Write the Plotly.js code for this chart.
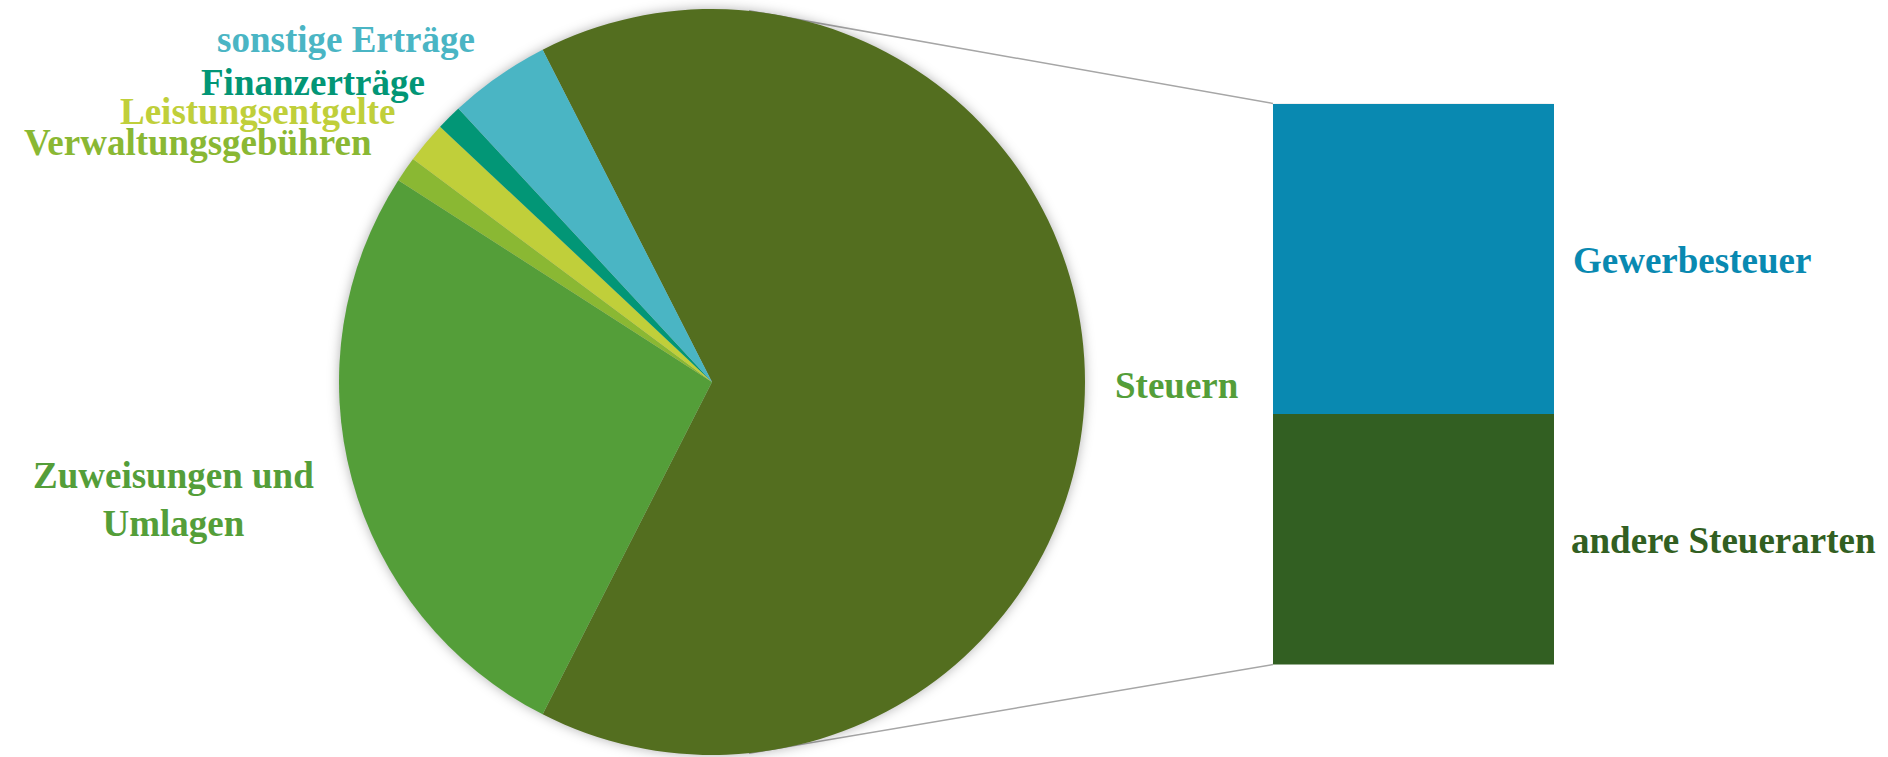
<!DOCTYPE html>
<html>
<head>
<meta charset="utf-8">
<script src="https://cdn.plot.ly/plotly-3.0.1.min.js"></script>
<style>
  html, body { margin: 0; padding: 0; background: #ffffff; }
  #chart { width: 1888px; height: 757px; }
</style>
</head>
<body>
<div id="chart"></div>
<script>
// ---- data ----
const sliceLabels = ['Steuern', 'Zuweisungen und Umlagen', 'Verwaltungsgebühren', 'Leistungsentgelte', 'Finanzerträge', 'sonstige Erträge'];
const sliceValues = [65.0, 26.6, 1.1, 1.8, 1.1, 4.4];
const sliceColors = ['#536E1F', '#549E39', '#8AB833', '#C0CF3A', '#029676', '#4AB5C4'];

const steuerLabels = ['Gewerbesteuer', 'andere Steuerarten'];
const steuerValues = [55.3, 44.7];
const steuerColors = ['#0989B1', '#325F22'];

// ---- geometry (layout only) ----
const W = 1888, H = 757;
const pieDomX = [339 / W, 1085 / W];
const pieDomY = [(H - 755) / H, (H - 9) / H];
const barDomX = [1273 / W, 1554 / W];
const barDomY = [(H - 664.5) / H, (H - 103.5) / H];
const connectorAngle = 5.7; // degrees from vertical where connector meets pie

const labelFont = { family: 'Liberation Serif, serif', size: 37, weight: 700 };

// pie geometry in paper coords
const pieCx = (pieDomX[0] + pieDomX[1]) / 2;
const pieCy = (pieDomY[0] + pieDomY[1]) / 2;
const pieRpx = Math.min((pieDomX[1] - pieDomX[0]) * W, (pieDomY[1] - pieDomY[0]) * H) / 2;
const rad = connectorAngle * Math.PI / 180;
const topPt = { x: pieCx + pieRpx * Math.sin(rad) / W, y: pieCy + pieRpx * Math.cos(rad) / H };
const botPt = { x: pieCx + pieRpx * Math.sin(rad) / W, y: pieCy - pieRpx * Math.cos(rad) / H };

const pieTrace = {
  type: 'pie',
  labels: sliceLabels,
  values: sliceValues,
  sort: false,
  direction: 'clockwise',
  rotation: -27,
  marker: { colors: sliceColors, line: { width: 0 } },
  textinfo: 'none',
  hoverinfo: 'label+percent',
  domain: { x: pieDomX, y: pieDomY },
  showlegend: false
};

const barTraces = [1, 0].map(i => ({
  type: 'bar',
  x: ['Steuern'],
  y: [steuerValues[i]],
  name: steuerLabels[i],
  width: 1,
  marker: { color: steuerColors[i], line: { width: 0 } },
  xaxis: 'x2',
  yaxis: 'y2',
  showlegend: false,
  hoverinfo: 'name+y'
}));

const steuerTotal = steuerValues.reduce((a, b) => a + b, 0);

// label placements (center x px, middle y px)
const labelPos = {
  'sonstige Erträge': [346, 39],
  'Finanzerträge': [313, 82],
  'Leistungsentgelte': [257, 112],
  'Verwaltungsgebühren': [198, 143],
  'Zuweisungen und Umlagen': [173, 499],
  'Steuern': [1177, 385],
  'Gewerbesteuer': [1692, 260],
  'andere Steuerarten': [1723, 540]
};
const labelColors = {
  'sonstige Erträge': sliceColors[5],
  'Finanzerträge': sliceColors[4],
  'Leistungsentgelte': sliceColors[3],
  'Verwaltungsgebühren': sliceColors[2],
  'Zuweisungen und Umlagen': sliceColors[1],
  'Steuern': sliceColors[1],
  'Gewerbesteuer': steuerColors[0],
  'andere Steuerarten': steuerColors[1]
};
const allLabels = sliceLabels.concat(steuerLabels);
const annotations = allLabels.map(t => ({
  text: t === 'Zuweisungen und Umlagen' ? 'Zuweisungen und<br>Umlagen' : t,
  xref: 'paper', yref: 'paper',
  x: labelPos[t][0] / W,
  y: (H - labelPos[t][1]) / H,
  xanchor: 'center', yanchor: 'middle',
  align: 'center',
  showarrow: false,
  font: Object.assign({}, labelFont, { color: labelColors[t] })
}));

const shapes = [
  { type: 'line', xref: 'paper', yref: 'paper', layer: 'below',
    x0: topPt.x, y0: topPt.y, x1: barDomX[0], y1: barDomY[1],
    line: { color: '#A6A6A6', width: 1.5 } },
  { type: 'line', xref: 'paper', yref: 'paper', layer: 'below',
    x0: botPt.x, y0: botPt.y, x1: barDomX[0], y1: barDomY[0],
    line: { color: '#A6A6A6', width: 1.5 } }
];

const layout = {
  width: W, height: H,
  margin: { l: 0, r: 0, t: 0, b: 0 },
  paper_bgcolor: '#ffffff',
  plot_bgcolor: 'rgba(0,0,0,0)',
  barmode: 'stack',
  showlegend: false,
  xaxis: { visible: false },
  yaxis: { visible: false },
  xaxis2: { domain: barDomX, range: [-0.5, 0.5], visible: false, anchor: 'y2', type: 'category', fixedrange: true },
  yaxis2: { domain: barDomY, range: [0, steuerTotal], visible: false, anchor: 'x2', fixedrange: true },
  annotations: annotations,
  shapes: shapes
};

Plotly.newPlot('chart', [pieTrace].concat(barTraces), layout, { displayModeBar: false, staticPlot: true }).then(() => {
  document.querySelectorAll('.pielayer').forEach(el => {
    el.style.filter = 'drop-shadow(0px 0px 6px rgba(0,0,0,0.30))';
  });
  document.querySelectorAll('.barlayer').forEach(el => {
    el.style.filter = 'drop-shadow(0px 0px 6px rgba(0,0,0,0.25))';
  });
});
</script>
</body>
</html>
